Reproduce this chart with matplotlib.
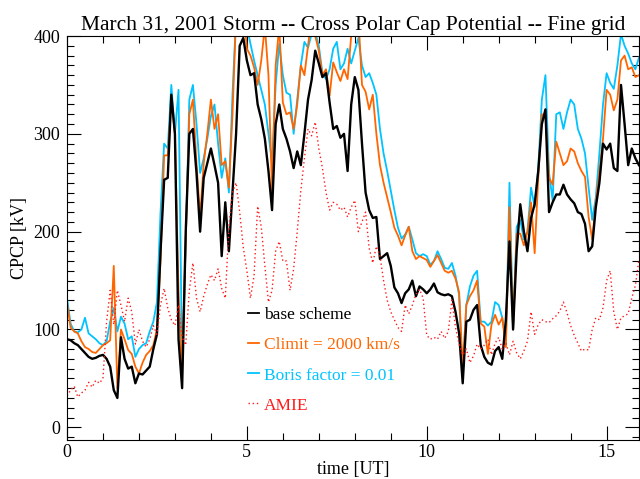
import numpy as np
import matplotlib
matplotlib.use("Agg")
import matplotlib.pyplot as plt
from matplotlib.lines import Line2D
from matplotlib.ticker import MultipleLocator

plt.rcParams['font.family'] = ['Liberation Serif', 'DejaVu Serif']

# time grid [UT hours], 0.1 h steps
hours = np.linspace(0.0, 15.9, 160)

base = [
    90, 89, 86, 84, 80, 76, 72, 70, 71, 73,
    74, 70, 62, 38, 30, 92, 70, 60, 62, 45,
    55, 54, 58, 62, 80, 95, 180, 253, 255, 340,
    300, 90, 40, 200, 300, 305, 260, 200, 255, 270,
    285, 268, 250, 175, 230, 180, 240, 300, 390, 398,
    375, 360, 362, 330, 315, 295, 262, 222, 310, 330,
    305, 295, 282, 265, 282, 268, 300, 335, 355, 385,
    372, 358, 362, 332, 305, 308, 296, 300, 262, 330,
    358, 345, 290, 240, 222, 214, 215, 172, 175, 178,
    165, 143, 137, 127, 137, 141, 150, 134, 144, 141,
    137, 141, 147, 138, 136, 135, 136, 134, 118, 96,
    45, 108, 110, 120, 125, 84, 72, 66, 64, 78,
    82, 70, 110, 190, 100, 180, 228, 200, 180, 214,
    228, 262, 310, 325, 220, 230, 238, 238, 248, 238,
    233, 229, 220, 218, 208, 180, 185, 225, 250, 290,
    284, 290, 265, 262, 350, 310, 268, 285, 275, 268,
]

climit = [
    127, 102, 98, 96, 88, 82, 80, 77, 76, 80,
    84, 86, 89, 165, 40, 100, 90, 79, 75, 62,
    55, 66, 74, 78, 84, 100, 170, 278, 278, 335,
    300, 140, 55, 190, 320, 335, 270, 215, 270, 300,
    335, 305, 320, 268, 272, 245, 320, 420, 440, 430,
    387, 380, 368, 350, 375, 410, 360, 242, 370, 410,
    332, 320, 322, 305, 330, 370, 360, 390, 420, 400,
    385, 360, 366, 339, 373, 363, 354, 366, 356, 400,
    430, 420, 350, 343, 325, 340, 300, 268, 250, 235,
    220, 204, 196, 186, 196, 205, 180, 172, 175, 173,
    171, 164, 170, 176, 168, 160, 158, 160, 152, 138,
    60, 125, 134, 140, 150, 106, 103, 75, 105, 115,
    105, 112, 82, 225, 100, 198, 198, 186, 200, 230,
    178, 255, 320, 318, 255, 248, 292, 280, 268, 272,
    285, 282, 270, 262, 256, 215, 192, 230, 262, 295,
    345, 340, 324, 335, 375, 380, 366, 368, 358, 360,
]

boris = [
    132, 106, 98, 97, 100, 112, 96, 93, 90, 86,
    84, 88, 108, 122, 98, 113, 106, 90, 93, 72,
    80, 84, 86, 98, 108, 128, 220, 290, 285, 350,
    300, 345, 60, 190, 335, 350, 310, 260, 275, 295,
    318, 330, 290, 255, 275, 240, 340, 420, 430, 425,
    410, 392, 375, 360, 345, 330, 300, 270, 350, 392,
    360, 342, 340, 300, 335, 370, 394, 388, 402, 404,
    390, 362, 356, 366, 387, 394, 366, 372, 387, 372,
    385, 398, 370, 358, 362, 352, 340, 305, 280, 262,
    242, 222, 204, 193, 197, 205, 192, 178, 175, 177,
    175, 166, 170, 180, 172, 163, 162, 168, 155, 135,
    50, 125, 144, 155, 160, 108, 108, 104, 108, 128,
    125, 112, 85, 250, 100, 205, 212, 192, 200, 245,
    225, 265, 335, 360, 260, 232, 320, 322, 305, 322,
    335, 330, 305, 295, 280, 245, 212, 235, 280, 330,
    362, 352, 346, 370, 402, 390, 382, 372, 366, 378,
]

amie = [
    32, 38, 42, 31, 35, 38, 46, 41, 48, 45,
    50, 108, 140, 105, 140, 125, 108, 132, 118, 85,
    100, 88, 82, 90, 104, 95, 125, 142, 122, 110,
    104, 125, 92, 84, 140, 168, 132, 118, 134, 146,
    156, 150, 162, 142, 132, 205, 240, 250, 220, 184,
    160, 132, 155, 226, 205, 165, 128, 140, 180, 190,
    170, 170, 140, 162, 200, 242, 275, 305, 298, 312,
    285, 265, 240, 222, 230, 228, 222, 225, 215, 225,
    232, 200, 210, 220, 183, 168, 185, 175, 150, 130,
    118, 110, 102, 98, 125, 116, 125, 136, 141, 132,
    94, 90, 92, 90, 98, 91, 98, 130, 102, 85,
    74, 80, 66, 73, 85, 80, 84, 90, 74, 86,
    92, 80, 86, 74, 88, 76, 70, 78, 88, 118,
    95, 105, 110, 108, 107, 111, 114, 119, 128, 117,
    104, 94, 86, 78, 80, 79, 100, 112, 110, 122,
    150, 160, 118, 100, 112, 114, 116, 132, 145, 172,
]

c_base = 'black'
c_climit = '#FF6600'
c_boris = '#00C3FF'
c_amie = '#FF1A1A'

fig = plt.figure(figsize=(6.4, 4.79), dpi=100)
ax = fig.add_axes([0.1047, 0.0814, 0.8937, 0.8434])

ax.plot(hours, boris, color=c_boris, lw=1.3)
ax.plot(np.r_[0.0, hours], np.r_[0, climit], color=c_climit, lw=1.3)
ax.plot(hours, base, color=c_base, lw=1.7)
ax.plot(hours, amie, color=c_amie, lw=1.0, ls=(0, (1, 2)))

ax.set_xlim(0, 15.9)
ax.set_ylim(-13, 400)
ax.xaxis.set_major_locator(MultipleLocator(5))
ax.xaxis.set_minor_locator(MultipleLocator(1))
ax.yaxis.set_major_locator(MultipleLocator(100))
ax.yaxis.set_minor_locator(MultipleLocator(10))
ax.tick_params(which='both', direction='in', top=True, right=True,
               labelsize=13, width=0.8)
ax.tick_params(which='major', length=10)
ax.tick_params(which='minor', length=5)
ax.tick_params(axis='x', which='major', pad=3)
ax.tick_params(axis='y', which='major', pad=5)

ax.set_xlabel('time [UT]', fontsize=13, labelpad=0)
ax.set_ylabel('CPCP [kV]', fontsize=13, labelpad=4)
ax.set_title('March 31, 2001 Storm -- Cross Polar Cap Potential -- Fine grid',
             fontsize=15.5, pad=4)

handles = [
    Line2D([], [], color=c_base, lw=1.3),
    Line2D([], [], color=c_climit, lw=1.3),
    Line2D([], [], color=c_boris, lw=1.3),
    Line2D([], [], color=c_amie, lw=1.0, ls=(0, (1, 2))),
]
labels = ['base scheme', 'Climit = 2000 km/s', 'Boris factor = 0.01', 'AMIE']
leg = ax.legend(handles, labels, loc='upper left', bbox_to_anchor=(0.302, 0.35),
                frameon=False, fontsize=12.5, handlelength=0.6,
                handletextpad=0.3, labelspacing=0.8, borderpad=0)
for txt, col in zip(leg.get_texts(), [c_base, c_climit, c_boris, c_amie]):
    txt.set_color(col)

fig.savefig('out.png', dpi=100)
